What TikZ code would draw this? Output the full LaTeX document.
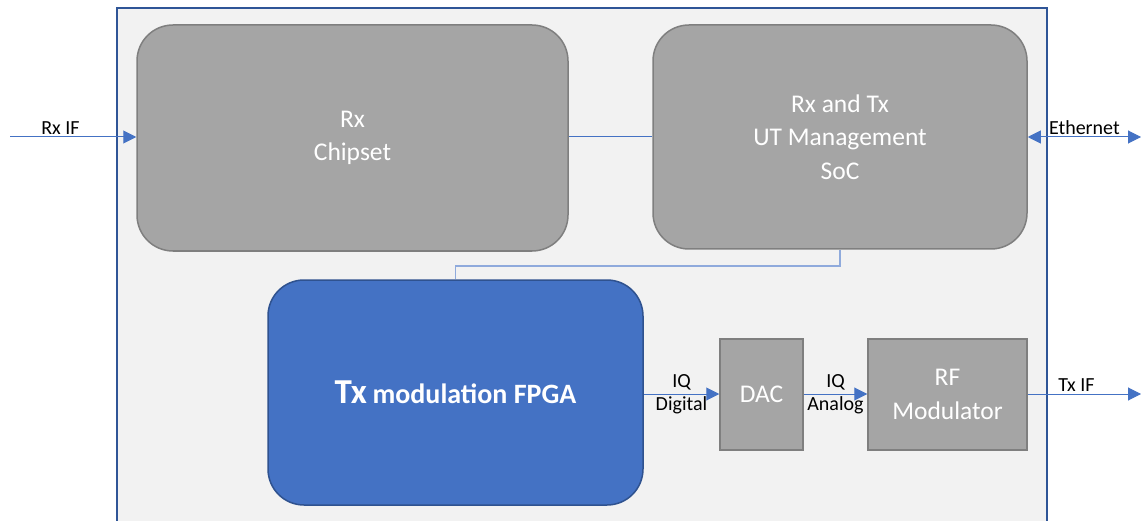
\documentclass[tikz,border=0pt]{standalone}
\usepackage{fontspec}
\setmainfont{Carlito}
\usetikzlibrary{arrows.meta}

\definecolor{panel}{HTML}{F2F2F2}
\definecolor{frameblue}{HTML}{2F5597}
\definecolor{boxgray}{HTML}{A5A5A5}
\definecolor{edgegray}{HTML}{7F7F7F}
\definecolor{fpgablue}{HTML}{4472C4}
\definecolor{fpgaedge}{HTML}{2F528F}
\definecolor{linkblue}{HTML}{4472C4}
\definecolor{paleblue}{HTML}{8FAADC}

\tikzset{
	bigbox/.style = {draw=edgegray, fill=boxgray, line width=1.5pt, rounded corners=36pt,
		text=white, align=center, inner sep=0pt, font=\fontsize{25.5}{33.5}\selectfont},
	smallbox/.style = {draw=edgegray, fill=boxgray, line width=1.5pt,
		text=white, align=center, inner sep=0pt, font=\fontsize{25.5}{33.5}\selectfont},
	link/.style = {draw=linkblue, line width=1pt},
	tip/.style = {-{Triangle[length=13pt,width=13pt]}},
	lbl/.style = {font=\fontsize{20}{23}\selectfont, text=black, inner sep=2pt}
}

\begin{document}
\begin{tikzpicture}[x=1pt, y=-1pt]
	\clip (0,0) rectangle (1142,521);
	\fill[white] (0,0) rectangle (1142,521);
	% outer board
	\draw[frameblue, fill=panel, line width=2pt] (117,8) rectangle (1047,540);

		\node[bigbox, minimum width=431pt, minimum height=226pt] (rxchip) at (352.5,138) {Rx\\Chipset};
		\node[bigbox, minimum width=374pt, minimum height=224pt] (mgmt) at (840,137) {Rx and Tx\\UT Management\\SoC};
		\node[bigbox, draw=fpgaedge, fill=fpgablue, minimum width=375pt, minimum height=225pt] (fpga) at (455.5,392.5)
			{\bfseries{\fontsize{35}{38}\selectfont Tx} {\fontsize{28}{30}\selectfont modulation FPGA}};
		\node[smallbox, minimum width=83pt, minimum height=111pt] (dac) at (761.5,394.5) {DAC};
		\node[smallbox, minimum width=159pt, minimum height=111pt] (rfmod) at (947.5,394.5) {RF\\Modulator};

		\coordinate (rxin) at (10,137);
		\coordinate (ethout) at (1141,137);
		\coordinate (txout) at (1141,394);

	% connectors
		\draw[link, tip] (rxin) -- node[lbl, above, pos=0.4] {Rx IF} (rxin -| rxchip.west);
		\draw[link] (rxchip.east |- 0,137) -- (mgmt.west |- 0,137);
		\draw[link, {Triangle[length=13pt,width=13pt]}-{Triangle[length=13pt,width=13pt]}]
			(mgmt.east |- ethout) -- node[lbl, above] {Ethernet} (ethout);
		\draw[paleblue, line width=1.5pt] (mgmt.south) -- ++(0,16) -| (fpga.north);
		\draw[link, tip] (fpga.east |- 0,394) -- node[lbl, align=center] {IQ\\Digital} (dac.west |- 0,394);
		\draw[link, tip] (dac.east |- 0,394) -- node[lbl, align=center] {IQ\\Analog} (rfmod.west |- 0,394);
		\draw[link, tip] (rfmod.east |- txout) -- node[lbl, above, pos=0.43] {Tx IF} (txout);
\end{tikzpicture}
\end{document}
